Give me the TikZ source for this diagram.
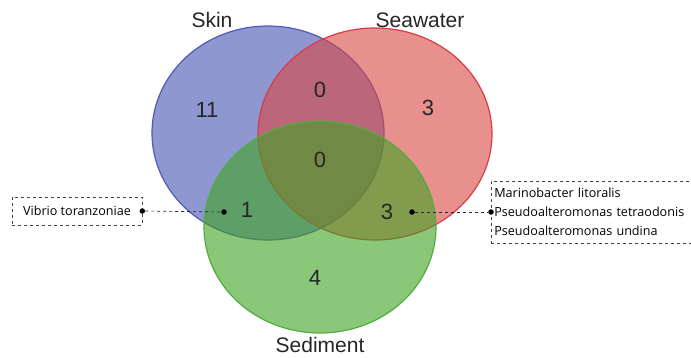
\documentclass[tikz,border=0pt]{standalone}
\usepackage{fontspec}
\setmainfont{Liberation Sans}
\newfontfamily\boxfont{Open Sans}
\definecolor{skinc}{RGB}{68,83,178}
\definecolor{seac}{RGB}{217,70,67}
\definecolor{sedc}{RGB}{63,163,33}
\definecolor{skinl}{RGB}{80,90,185}
\definecolor{seal}{RGB}{215,60,70}
\definecolor{sedl}{RGB}{85,170,65}
\begin{document}
\begin{tikzpicture}[x=1pt,y=-1pt,
  setc/.style={line width=1.2pt, fill opacity=0.6},
  lab/.style={font=\fontsize{21}{24}\selectfont, text=black!85, inner sep=0pt},
  num/.style={font=\fontsize{22}{24}\selectfont, text=black!85, inner sep=0pt},
  infobox/.style={draw=black!75, dashed, line width=0.6pt, font=\boxfont\fontsize{12.6}{19}\selectfont, align=left, inner sep=3pt},
  dotc/.style={circle, fill=black, inner sep=0pt, minimum size=5.5pt},
  lead/.style={dashed, line width=0.7pt, black!85}]
\useasboundingbox (0,0) rectangle (691,357);
\fill[white] (0,0) rectangle (691,357);
\filldraw[setc, fill=skinc, draw=skinl] (268,133) ellipse [x radius=116, y radius=107];
\filldraw[setc, fill=seac, draw=seal] (375,134) ellipse [x radius=117, y radius=106];
\filldraw[setc, fill=sedc, draw=sedl] (320,227) ellipse [x radius=116, y radius=106];
\node[lab] (lskin) at (212,20) {Skin};
\node[lab] (lsea) at (420,20) {Seawater};
\node[lab] (lsed) at (320,345) {Sediment};
\node[num] (n11) at (207,110) {11};
\node[num] (n0a) at (320,90) {0};
\node[num] (n3a) at (428,108) {3};
\node[num] (n0b) at (320,160) {0};
\node[num] (n1) at (247,210) {1};
\node[num] (n3b) at (387,212) {3};
\node[num] (n4) at (315,278) {4};
\node[infobox, minimum width=130pt, minimum height=28pt] (vb) at (77,211) {Vibrio toranzoniae};
\node[infobox, anchor=west, minimum height=62pt, text width=200pt] (mb) at (491,212) {Marinobacter litoralis\\Pseudoalteromonas tetraodonis\\Pseudoalteromonas undina};
\node[dotc] (d1a) at (vb.east) {};
\node[dotc] (d1b) at (224,212) {};
\node[dotc] (d2a) at (mb.west) {};
\node[dotc] (d2b) at (412,212) {};
\draw[lead] (d1a) -- (d1b);
\draw[lead] (d2b) -- (d2a);
\end{tikzpicture}
\end{document}
